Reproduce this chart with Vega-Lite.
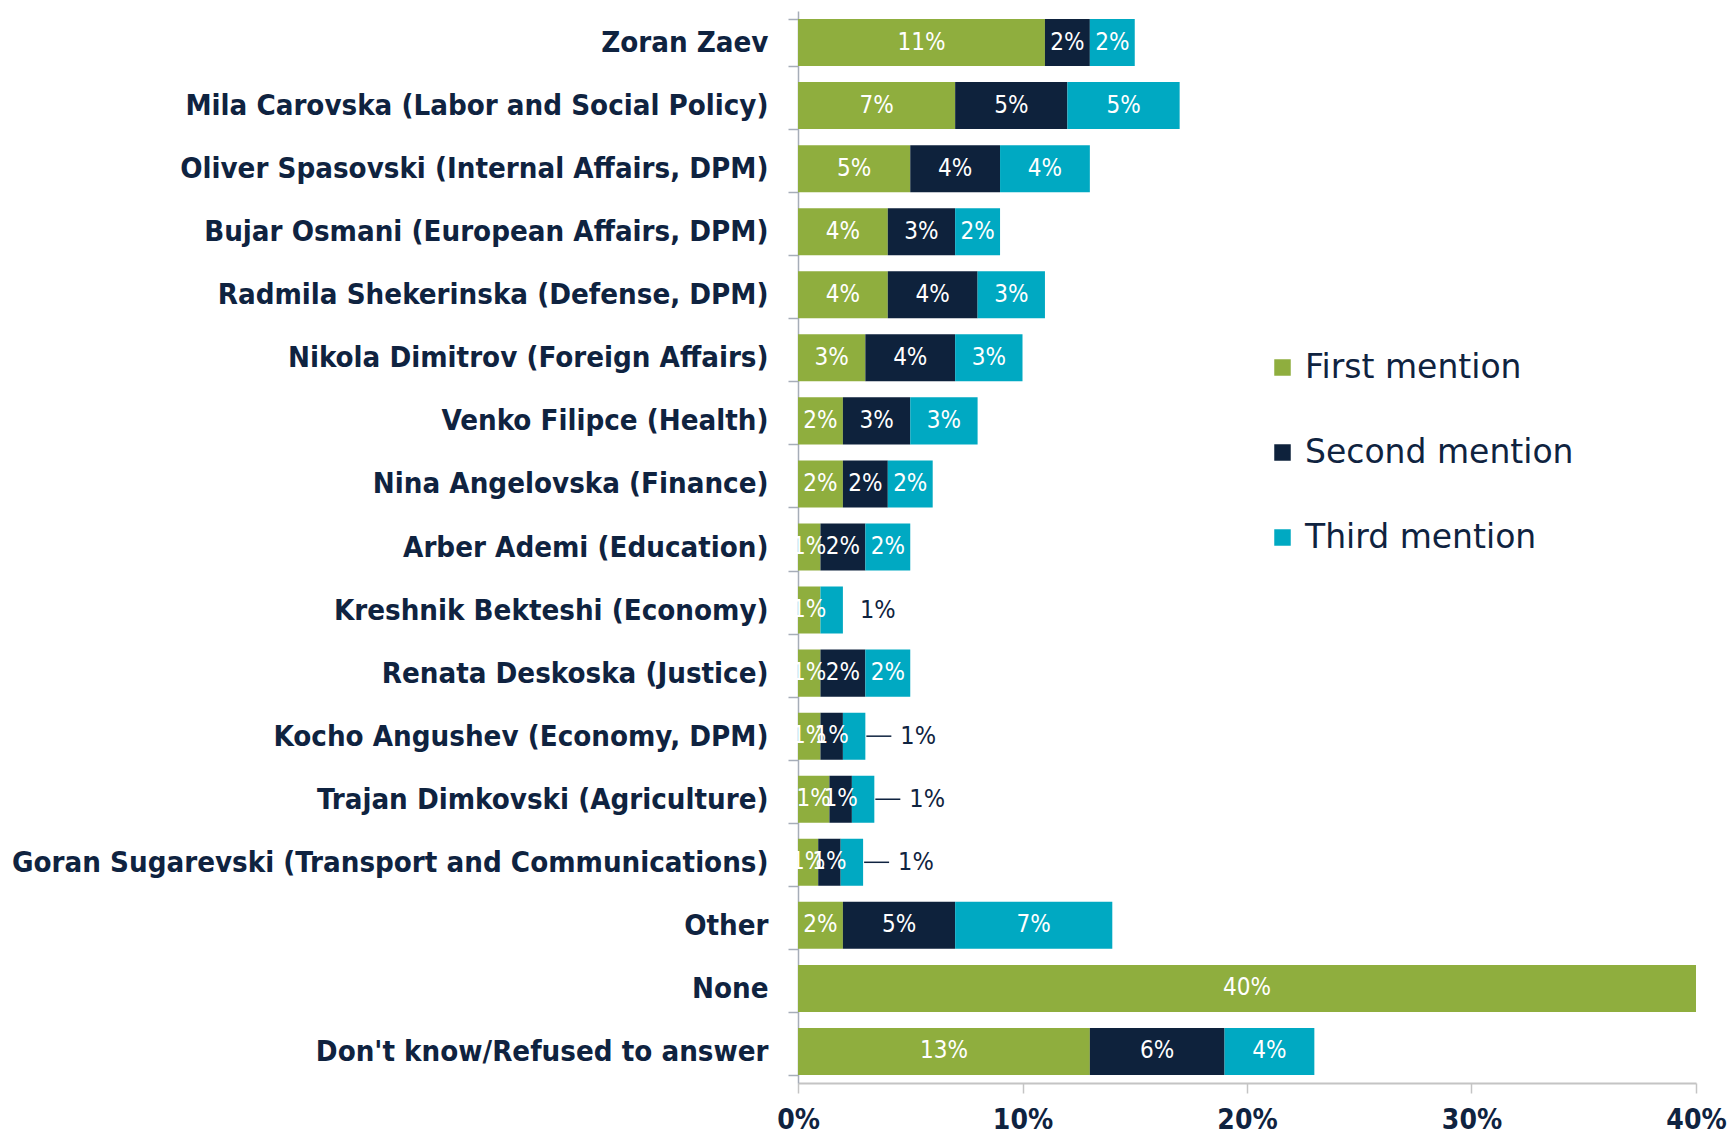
{
  "$schema": "https://vega.github.io/schema/vega-lite/v6.json",
  "width": 898,
  "height": 1072,
  "autosize": {"type": "none"},
  "padding": {"left": 798, "top": 11, "right": 36, "bottom": 53},
  "background": "white",
  "config": {"view": {"stroke": null}, "font": "DejaVu Sans Condensed"},
  "data": {
    "values": [
      {"name": "Zoran Zaev", "mention": "First mention", "value": 0.11},
      {"name": "Zoran Zaev", "mention": "Second mention", "value": 0.02},
      {"name": "Zoran Zaev", "mention": "Third mention", "value": 0.02},
      {"name": "Mila Carovska (Labor and Social Policy)", "mention": "First mention", "value": 0.07},
      {"name": "Mila Carovska (Labor and Social Policy)", "mention": "Second mention", "value": 0.05},
      {"name": "Mila Carovska (Labor and Social Policy)", "mention": "Third mention", "value": 0.05},
      {"name": "Oliver Spasovski (Internal Affairs, DPM)", "mention": "First mention", "value": 0.05},
      {"name": "Oliver Spasovski (Internal Affairs, DPM)", "mention": "Second mention", "value": 0.04},
      {"name": "Oliver Spasovski (Internal Affairs, DPM)", "mention": "Third mention", "value": 0.04},
      {"name": "Bujar Osmani (European Affairs, DPM)", "mention": "First mention", "value": 0.04},
      {"name": "Bujar Osmani (European Affairs, DPM)", "mention": "Second mention", "value": 0.03},
      {"name": "Bujar Osmani (European Affairs, DPM)", "mention": "Third mention", "value": 0.02},
      {"name": "Radmila Shekerinska  (Defense, DPM)", "mention": "First mention", "value": 0.04},
      {"name": "Radmila Shekerinska  (Defense, DPM)", "mention": "Second mention", "value": 0.04},
      {"name": "Radmila Shekerinska  (Defense, DPM)", "mention": "Third mention", "value": 0.03},
      {"name": "Nikola Dimitrov (Foreign Affairs)", "mention": "First mention", "value": 0.03},
      {"name": "Nikola Dimitrov (Foreign Affairs)", "mention": "Second mention", "value": 0.04},
      {"name": "Nikola Dimitrov (Foreign Affairs)", "mention": "Third mention", "value": 0.03},
      {"name": "Venko Filipce (Health)", "mention": "First mention", "value": 0.02},
      {"name": "Venko Filipce (Health)", "mention": "Second mention", "value": 0.03},
      {"name": "Venko Filipce (Health)", "mention": "Third mention", "value": 0.03},
      {"name": "Nina Angelovska (Finance)", "mention": "First mention", "value": 0.02},
      {"name": "Nina Angelovska (Finance)", "mention": "Second mention", "value": 0.02},
      {"name": "Nina Angelovska (Finance)", "mention": "Third mention", "value": 0.02},
      {"name": "Arber Ademi (Education)", "mention": "First mention", "value": 0.01},
      {"name": "Arber Ademi (Education)", "mention": "Second mention", "value": 0.02},
      {"name": "Arber Ademi (Education)", "mention": "Third mention", "value": 0.02},
      {"name": "Kreshnik Bekteshi (Economy)", "mention": "First mention", "value": 0.01},
      {"name": "Kreshnik Bekteshi (Economy)", "mention": "Third mention", "value": 0.01},
      {"name": "Renata Deskoska (Justice)", "mention": "First mention", "value": 0.01},
      {"name": "Renata Deskoska (Justice)", "mention": "Second mention", "value": 0.02},
      {"name": "Renata Deskoska (Justice)", "mention": "Third mention", "value": 0.02},
      {"name": "Kocho Angushev (Economy, DPM)", "mention": "First mention", "value": 0.01},
      {"name": "Kocho Angushev (Economy, DPM)", "mention": "Second mention", "value": 0.01},
      {"name": "Kocho Angushev (Economy, DPM)", "mention": "Third mention", "value": 0.01},
      {"name": "Trajan Dimkovski (Agriculture)", "mention": "First mention", "value": 0.014},
      {"name": "Trajan Dimkovski (Agriculture)", "mention": "Second mention", "value": 0.01},
      {"name": "Trajan Dimkovski (Agriculture)", "mention": "Third mention", "value": 0.01},
      {"name": "Goran Sugarevski (Transport and Communications)", "mention": "First mention", "value": 0.009},
      {"name": "Goran Sugarevski (Transport and Communications)", "mention": "Second mention", "value": 0.01},
      {"name": "Goran Sugarevski (Transport and Communications)", "mention": "Third mention", "value": 0.01},
      {"name": "Other", "mention": "First mention", "value": 0.02},
      {"name": "Other", "mention": "Second mention", "value": 0.05},
      {"name": "Other", "mention": "Third mention", "value": 0.07},
      {"name": "None", "mention": "First mention", "value": 0.40},
      {"name": "Don't know/Refused to answer", "mention": "First mention", "value": 0.13},
      {"name": "Don't know/Refused to answer", "mention": "Second mention", "value": 0.06},
      {"name": "Don't know/Refused to answer", "mention": "Third mention", "value": 0.04}
    ]
  },
  "transform": [
    {"stack": "value", "groupby": ["name"], "sort": [{"field": "mention", "order": "ascending"}], "as": ["x0", "x1"]},
    {"calculate": "(datum.x0 + datum.x1) / 2", "as": "mid"}
  ],
  "encoding": {
    "y": {
      "field": "name",
      "type": "nominal",
      "sort": null,
      "scale": {"paddingInner": 0.254, "paddingOuter": 0.127},
      "axis": {
        "title": null,
        "labelFontSize": 29.2,
        "labelFontWeight": "bold",
        "labelColor": "#0f2340",
        "labelLimit": 800,
        "labelPadding": 20,
        "tickSize": 10,
        "tickWidth": 1.5,
        "tickColor": "#a6adb8",
        "tickBand": "extent",
        "domainColor": "#a6adb8",
        "domainWidth": 1.5
      }
    }
  },
  "layer": [
    {
      "mark": {"type": "bar"},
      "encoding": {
        "x": {
          "field": "x0",
          "type": "quantitative",
          "scale": {"domain": [0, 0.4], "nice": false},
          "axis": {
            "title": null,
            "values": [0, 0.1, 0.2, 0.3, 0.4],
            "format": ".0%",
            "grid": false,
            "labelFontSize": 28,
            "labelFontWeight": "bold",
            "labelColor": "#0f2340",
            "labelPadding": 13,
            "labelFlush": false,
            "tickSize": 10,
            "tickWidth": 1.5,
            "tickColor": "#c4c4c4",
            "domainColor": "#c4c4c4",
            "domainWidth": 2
          }
        },
        "x2": {"field": "x1"},
        "color": {
          "field": "mention",
          "type": "nominal",
          "scale": {
            "domain": ["First mention", "Second mention", "Third mention"],
            "range": ["#8fae3e", "#0e223c", "#00a9c2"]
          },
          "legend": {
            "title": null,
            "orient": "none",
            "legendX": 468,
            "legendY": 340,
            "symbolType": "square",
            "symbolSize": 272,
            "symbolStrokeWidth": 0,
            "labelFont": "DejaVu Sans",
            "labelFontSize": 33,
            "labelLimit": 500,
            "labelColor": "#0f2340",
            "labelOffset": 6,
            "rowPadding": 51
          }
        }
      }
    },
    {
      "transform": [
        {"filter": "!(datum.mention == 'Third mention' && indexof(['Kreshnik Bekteshi (Economy)', 'Kocho Angushev (Economy, DPM)', 'Trajan Dimkovski (Agriculture)', 'Goran Sugarevski (Transport and Communications)'], datum.name) >= 0)"}
      ],
      "mark": {"type": "text", "color": "white", "fontSize": 24, "baseline": "middle", "align": "center"},
      "encoding": {
        "x": {"field": "mid", "type": "quantitative"},
        "text": {"field": "value", "type": "quantitative", "format": ".0%"}
      }
    },
    {
      "transform": [
        {"filter": "datum.mention == 'Third mention' && indexof(['Kocho Angushev (Economy, DPM)', 'Trajan Dimkovski (Agriculture)', 'Goran Sugarevski (Transport and Communications)'], datum.name) >= 0"}
      ],
      "mark": {"type": "rule", "color": "#0f2340", "strokeWidth": 1.5, "xOffset": 1, "x2Offset": 26},
      "encoding": {
        "x": {"field": "x1", "type": "quantitative"},
        "x2": {"field": "x1"}
      }
    },
    {
      "transform": [
        {"filter": "datum.mention == 'Third mention' && indexof(['Kocho Angushev (Economy, DPM)', 'Trajan Dimkovski (Agriculture)', 'Goran Sugarevski (Transport and Communications)'], datum.name) >= 0"}
      ],
      "mark": {"type": "text", "color": "#0f2340", "fontSize": 25, "baseline": "middle", "align": "left", "dx": 35},
      "encoding": {
        "x": {"field": "x1", "type": "quantitative"},
        "text": {"field": "value", "type": "quantitative", "format": ".0%"}
      }
    },
    {
      "transform": [
        {"filter": "datum.mention == 'Third mention' && datum.name == 'Kreshnik Bekteshi (Economy)'"}
      ],
      "mark": {"type": "text", "color": "#0f2340", "fontSize": 25, "baseline": "middle", "align": "left", "dx": 17},
      "encoding": {
        "x": {"field": "x1", "type": "quantitative"},
        "text": {"field": "value", "type": "quantitative", "format": ".0%"}
      }
    }
  ]
}
